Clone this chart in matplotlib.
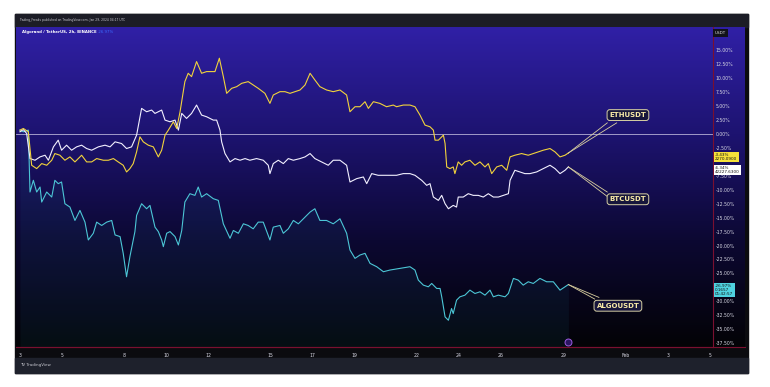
import matplotlib

matplotlib.use("Agg")

import matplotlib.pyplot as plt
import numpy as np
from matplotlib.colors import LinearSegmentedColormap
from matplotlib.patches import Rectangle

# --- data: % change vs. Jan 3 open, x in day-of-January (Feb 1 = 32) ---
eth_day = [3.00, 3.16, 3.40, 3.56, 3.80, 4.04, 4.28, 4.52, 4.67, 4.91, 5.15, 5.39, 5.63, 5.95,
           6.19, 6.43, 6.67, 6.99, 7.23, 7.47, 7.70, 7.94, 8.10, 8.26, 8.42, 8.58, 8.74, 8.90,
           9.14, 9.38, 9.62, 9.78, 9.94, 10.10, 10.34, 10.50, 10.66, 10.89, 11.05, 11.21, 11.45,
           11.69, 11.93, 12.33, 12.54, 12.73, 12.89, 13.13, 13.37, 13.61, 13.92, 14.16, 14.40,
           14.72, 14.96, 15.12, 15.44, 15.68, 15.92, 16.16, 16.40, 16.64, 16.88, 17.11, 17.35,
           17.67, 17.99, 18.31, 18.63, 18.79, 19.03, 19.27, 19.51, 19.67, 19.91, 20.22, 20.54,
           20.86, 21.02, 21.34, 21.66, 21.90, 22.14, 22.38, 22.62, 22.78, 22.86, 23.02, 23.26,
           23.34, 23.42, 23.57, 23.73, 23.81, 23.97, 24.13, 24.29, 24.53, 24.77, 25.01, 25.25,
           25.41, 25.57, 25.81, 26.05, 26.29, 26.45, 26.68, 27.00, 27.32, 27.56, 27.80, 28.04,
           28.36, 28.60, 28.84, 29.08, 29.24]
eth_pct = [0.7, 1.0, 0.4, -5.6, -6.2, -5.3, -5.6, -4.7, -3.5, -3.8, -4.7, -4.1, -5.0, -3.8,
           -5.0, -5.0, -4.4, -4.7, -4.7, -4.4, -5.0, -5.6, -6.8, -6.2, -5.3, -3.2, -0.5, -1.4,
           -2.0, -2.3, -4.1, -2.9, -0.2, 0.7, 2.2, 1.0, 4.0, 9.4, 10.9, 10.3, 13.0,
           10.9, 11.2, 11.2, 13.6, 10.3, 7.3, 8.2, 8.5, 9.1, 9.4, 8.8, 8.2,
           7.3, 5.5, 7.0, 7.6, 7.6, 7.3, 7.6, 7.9, 8.8, 10.9, 9.7, 8.5,
           7.9, 7.6, 7.9, 7.0, 4.0, 4.9, 4.9, 5.8, 4.6, 5.8, 5.5, 4.9,
           5.2, 4.9, 5.2, 5.2, 4.9, 3.4, 1.6, 1.3, 0.7, -1.1, -1.1, -0.2,
           -1.7, -5.9, -6.2, -5.9, -7.1, -5.0, -5.6, -5.0, -4.7, -5.6, -5.0, -5.9,
           -5.3, -7.1, -5.9, -5.6, -6.5, -4.1, -3.8, -3.5, -3.8, -3.5, -3.2, -2.9,
           -2.6, -3.2, -4.1, -3.8, -3.4]

btc_day = [3.00, 3.16, 3.32, 3.48, 3.72, 3.96, 4.20, 4.36, 4.60, 4.83, 4.99, 5.23, 5.47, 5.71,
           5.95, 6.19, 6.43, 6.75, 7.07, 7.31, 7.55, 7.86, 8.10, 8.34, 8.58, 8.82, 9.06, 9.30,
           9.46, 9.78, 9.94, 10.18, 10.42, 10.58, 10.74, 10.97, 11.21, 11.45, 11.69, 11.93,
           12.25, 12.41, 12.57, 12.65, 12.81, 13.05, 13.29, 13.53, 13.77, 14.00, 14.32, 14.64,
           14.88, 14.96, 15.12, 15.36, 15.60, 15.84, 16.08, 16.40, 16.64, 16.88, 17.11, 17.43,
           17.75, 17.99, 18.31, 18.63, 18.79, 19.11, 19.43, 19.59, 19.83, 20.14, 20.54, 21.02,
           21.34, 21.66, 21.90, 22.22, 22.46, 22.62, 22.78, 23.02, 23.18, 23.34, 23.50, 23.73,
           23.89, 23.97, 24.21, 24.45, 24.69, 24.93, 25.17, 25.41, 25.65, 25.89, 26.13, 26.37,
           26.45, 26.68, 26.92, 27.16, 27.40, 27.72, 28.04, 28.36, 28.60, 28.84, 29.08, 29.24]
btc_pct = [0.4, 0.8, 0.1, -4.4, -4.7, -4.1, -3.8, -4.7, -2.3, -1.1, -2.9, -2.0, -2.9, -2.3,
           -2.0, -2.6, -2.9, -2.3, -2.0, -2.3, -1.4, -1.7, -2.6, -2.3, -0.2, 4.6, 4.0, 4.3,
           3.7, 4.3, 2.5, 2.2, 2.5, 0.7, 3.7, 2.8, 3.7, 5.2, 3.4, 3.1,
           2.5, 2.5, 0.7, -1.4, -3.5, -5.0, -4.4, -4.7, -4.4, -4.7, -4.4, -4.7,
           -5.6, -7.1, -5.3, -4.7, -5.3, -4.4, -4.7, -4.4, -4.1, -3.5, -4.4, -5.0,
           -5.6, -4.7, -4.7, -5.6, -8.6, -8.0, -7.7, -8.9, -7.1, -7.4, -7.4, -7.4,
           -7.1, -7.1, -7.4, -8.3, -9.2, -8.9, -11.3, -11.9, -11.0, -12.5, -13.4, -12.8,
           -13.1, -11.3, -11.3, -10.7, -11.0, -11.0, -11.3, -10.7, -11.3, -11.3, -11.0, -10.7,
           -8.3, -6.5, -6.8, -7.1, -7.1, -6.8, -6.2, -5.6, -6.2, -7.1, -6.5, -5.9]

algo_day = [3.00, 3.16, 3.40, 3.48, 3.64, 3.80, 3.96, 4.04, 4.28, 4.52, 4.67, 4.83, 4.99, 5.15,
            5.39, 5.63, 5.87, 6.11, 6.27, 6.51, 6.67, 6.91, 7.15, 7.39, 7.55, 7.79, 7.94, 8.10,
            8.26, 8.50, 8.58, 8.82, 9.06, 9.22, 9.46, 9.62, 9.78, 9.86, 10.02, 10.18, 10.42,
            10.58, 10.74, 10.89, 11.13, 11.37, 11.53, 11.69, 11.93, 12.25, 12.49, 12.73, 13.05,
            13.21, 13.45, 13.69, 13.92, 14.16, 14.40, 14.64, 14.96, 15.12, 15.44, 15.60, 15.84,
            16.08, 16.32, 16.56, 16.88, 17.11, 17.35, 17.67, 17.99, 18.31, 18.63, 18.79, 19.03,
            19.27, 19.51, 19.75, 20.07, 20.39, 20.70, 21.18, 21.66, 21.90, 22.06, 22.30, 22.54,
            22.70, 22.94, 23.10, 23.18, 23.34, 23.50, 23.65, 23.73, 23.89, 24.05, 24.29, 24.53,
            24.77, 25.01, 25.25, 25.49, 25.65, 25.89, 26.21, 26.37, 26.61, 26.84, 27.08, 27.32,
            27.56, 27.88, 28.20, 28.52, 28.84, 29.08, 29.24]
algo_pct = [0.7, 0.4, 0.7, -10.4, -8.3, -10.4, -9.5, -12.2, -10.4, -11.3, -8.3, -8.9, -8.6, -12.5,
            -13.1, -15.5, -13.7, -15.8, -19.0, -17.8, -15.8, -16.4, -15.8, -15.5, -18.1, -18.4, -21.4, -25.6,
            -22.0, -17.5, -14.6, -12.5, -13.4, -12.8, -16.7, -17.5, -19.0, -20.2, -17.8, -17.5, -18.4,
            -19.9, -17.3, -12.2, -10.7, -11.0, -9.5, -11.3, -10.7, -11.6, -11.9, -16.1, -18.7,
            -17.3, -17.8, -16.1, -16.4, -17.0, -15.8, -15.8, -19.0, -16.7, -16.4, -17.8, -17.0,
            -15.5, -16.1, -15.2, -14.0, -13.4, -15.5, -15.5, -16.1, -15.2, -17.8, -20.8, -22.3,
            -21.7, -21.4, -23.2, -23.8, -24.7, -24.4, -24.1, -23.8, -24.4, -26.2, -27.1, -27.4,
            -26.8, -27.7, -27.7, -29.2, -32.8, -33.4, -31.3, -32.2, -29.8, -29.2, -28.9, -28.0,
            -28.6, -28.3, -28.9, -28.0, -29.2, -28.9, -29.2, -28.6, -25.9, -26.2, -27.1, -26.5,
            -26.8, -25.9, -26.5, -26.5, -28.0, -27.4, -27.0]

x_ticks = [3, 5, 8, 10, 12, 15, 17, 19, 22, 24, 26, 29, 32, 34, 36]
x_labels = ["3", "5", "8", "10", "12", "15", "17", "19", "22", "24", "26", "29", "Feb", "3", "5"]
y_ticks = [15, 12.5, 10, 7.5, 5, 2.5, 0, -2.5, -7.5, -10, -12.5, -15, -17.5, -20,
           -22.5, -25, -30, -32.5, -35, -37.5]

W, H = 770, 387
C_ETH = "#f2d33c"
C_BTC = "#f2f0ff"
C_ALGO = "#4cc6d6"


def fx(px):
    return px / W


def fy(py):
    return 1 - py / H


fig = plt.figure(figsize=(7.7, 3.87), dpi=100, facecolor="white")

# dark TradingView frame, header bar and footer
fig.patches.append(Rectangle((fx(15), fy(373)), fx(748) - fx(15), fy(14) - fy(373),
                             transform=fig.transFigure, color="#0b0b0f", zorder=-3))
fig.patches.append(Rectangle((fx(15), fy(27)), fx(748) - fx(15), fy(14) - fy(27),
                             transform=fig.transFigure, color="#1c1d26", zorder=-2))
fig.patches.append(Rectangle((fx(15), fy(373)), fx(748) - fx(15), fy(358) - fy(373),
                             transform=fig.transFigure, color="#1e212c", zorder=-2))

# gradient background behind plot and price scale
bg = fig.add_axes([fx(16), fy(347), fx(745) - fx(16), fy(27) - fy(347)], zorder=-1)
cmap = LinearSegmentedColormap.from_list("tvbg", ["#3020a6", "#1d1370", "#0c0832", "#030306"])
bg.imshow(np.linspace(0, 1, 256).reshape(-1, 1), cmap=cmap, aspect="auto",
          extent=[0, 1, 0, 1], interpolation="bicubic")
bg.set_axis_off()

ax = fig.add_axes([fx(16), fy(347), fx(713) - fx(16), fy(27) - fy(347)])
ax.patch.set_alpha(0)
ax.set_xlim(2.81, 36.16)
ax.set_ylim(-38.2, 19.2)

ax.axhline(0, color="#b7b0d6", lw=0.6, zorder=1)

ax.fill_between(algo_day, algo_pct, -38.2, color="#2a9fc0", alpha=0.07, lw=0, zorder=1)
ax.plot(algo_day, algo_pct, color=C_ALGO, lw=0.8, zorder=3)
ax.plot(btc_day, btc_pct, color=C_BTC, lw=0.8, zorder=3)
ax.plot(eth_day, eth_pct, color=C_ETH, lw=0.8, zorder=4)

# callouts
box = dict(boxstyle="round,pad=0.35,rounding_size=0.4", fc="#17163c", ec="#d6cfa4", lw=0.7)
lbl = dict(color="#f7eaa6", fontsize=5, fontweight="bold", ha="center", va="center", zorder=6)
ax.text(32.09, 3.4, "ETHUSDT", bbox=box, **lbl)
ax.text(32.09, -11.7, "BTCUSDT", bbox=box, **lbl)
ax.text(31.61, -30.8, "ALGOUSDT", bbox=box, **lbl)
lc = dict(color="#d9cfa0", lw=0.6, zorder=5)
ax.plot([eth_day[-1], 31.1], [eth_pct[-1], 2.0], **lc)
ax.plot([eth_day[-1], 31.55], [eth_pct[-1], 2.0], **lc)
ax.plot([btc_day[-1], 31.1], [btc_pct[-1], -10.4], **lc)
ax.plot([btc_day[-1], 31.1], [btc_pct[-1], -11.2], **lc)
ax.plot([algo_day[-1], 30.5], [algo_pct[-1], -29.6], **lc)
ax.plot([algo_day[-1], 30.7], [algo_pct[-1], -29.3], **lc)

# small event marker on the time axis
ax.plot([29.2], [-37.3], marker="o", ms=5, mfc="#2a1660", mec="#9d5be0", mew=0.7,
        zorder=5, clip_on=False)

for s in ["top", "left"]:
    ax.spines[s].set_visible(False)
ax.spines["right"].set_color("#7a1030")
ax.spines["bottom"].set_color("#7a1030")
ax.spines["right"].set_linewidth(0.8)
ax.spines["bottom"].set_linewidth(0.8)

ax.yaxis.tick_right()
ax.set_yticks(y_ticks)
ax.set_yticklabels([f"{v:.2f}%" for v in y_ticks])
ax.set_xticks(x_ticks)
ax.set_xticklabels(x_labels)
ax.tick_params(axis="y", length=0, pad=2, labelsize=3.3, labelcolor="#d8d8e4")
ax.tick_params(axis="x", length=0, pad=4, labelsize=3.3, labelcolor="#d8d8e4")

# bottom line extends under the price scale
fig.add_artist(plt.Line2D([fx(16), fx(745)], [fy(347), fy(347)], transform=fig.transFigure,
                          color="#7a1030", lw=0.8))

# price scale tags
fig.text(fx(715), fy(33), "USDT", fontsize=3.0, color="#e0e0e0", va="center",
         bbox=dict(boxstyle="square,pad=0.5", fc="#121218", ec="none"))
fig.text(fx(715), fy(157), "-3.43%\n2270.0900", fontsize=3.0, color="#111111", va="center",
         linespacing=1.0, bbox=dict(boxstyle="square,pad=0.35", fc="#f5e13a", ec="none"))
fig.text(fx(715), fy(170), "-6.34%\n42227.6300", fontsize=3.0, color="#111111", va="center",
         linespacing=1.0, bbox=dict(boxstyle="square,pad=0.35", fc="#ffffff", ec="none"))
fig.text(fx(715), fy(290), "-26.97%\n0.1657\n01:42:57", fontsize=3.0, color="#111111",
         va="center", linespacing=1.0,
         bbox=dict(boxstyle="square,pad=0.35", fc="#4fd2e0", ec="none"))

# header / legend / footer
fig.text(fx(19), fy(20), "Trading_Freaks published on TradingView.com, Jan 29, 2024 04:17 UTC",
         fontsize=2.2, color="#c8c8d0", va="center")
fig.text(fx(22), fy(32), "Algorand / TetherUS, 2h, BINANCE", fontsize=2.75,
         color="white", fontweight="bold", va="center")
fig.text(fx(98), fy(32), "-26.97%", fontsize=2.75, color="#3a6cff", va="center")
fig.text(fx(20), fy(365), "TV TradingView", fontsize=2.9, color="#c8c8d0", va="center")

fig.savefig("out.png", dpi=100, facecolor="white")
